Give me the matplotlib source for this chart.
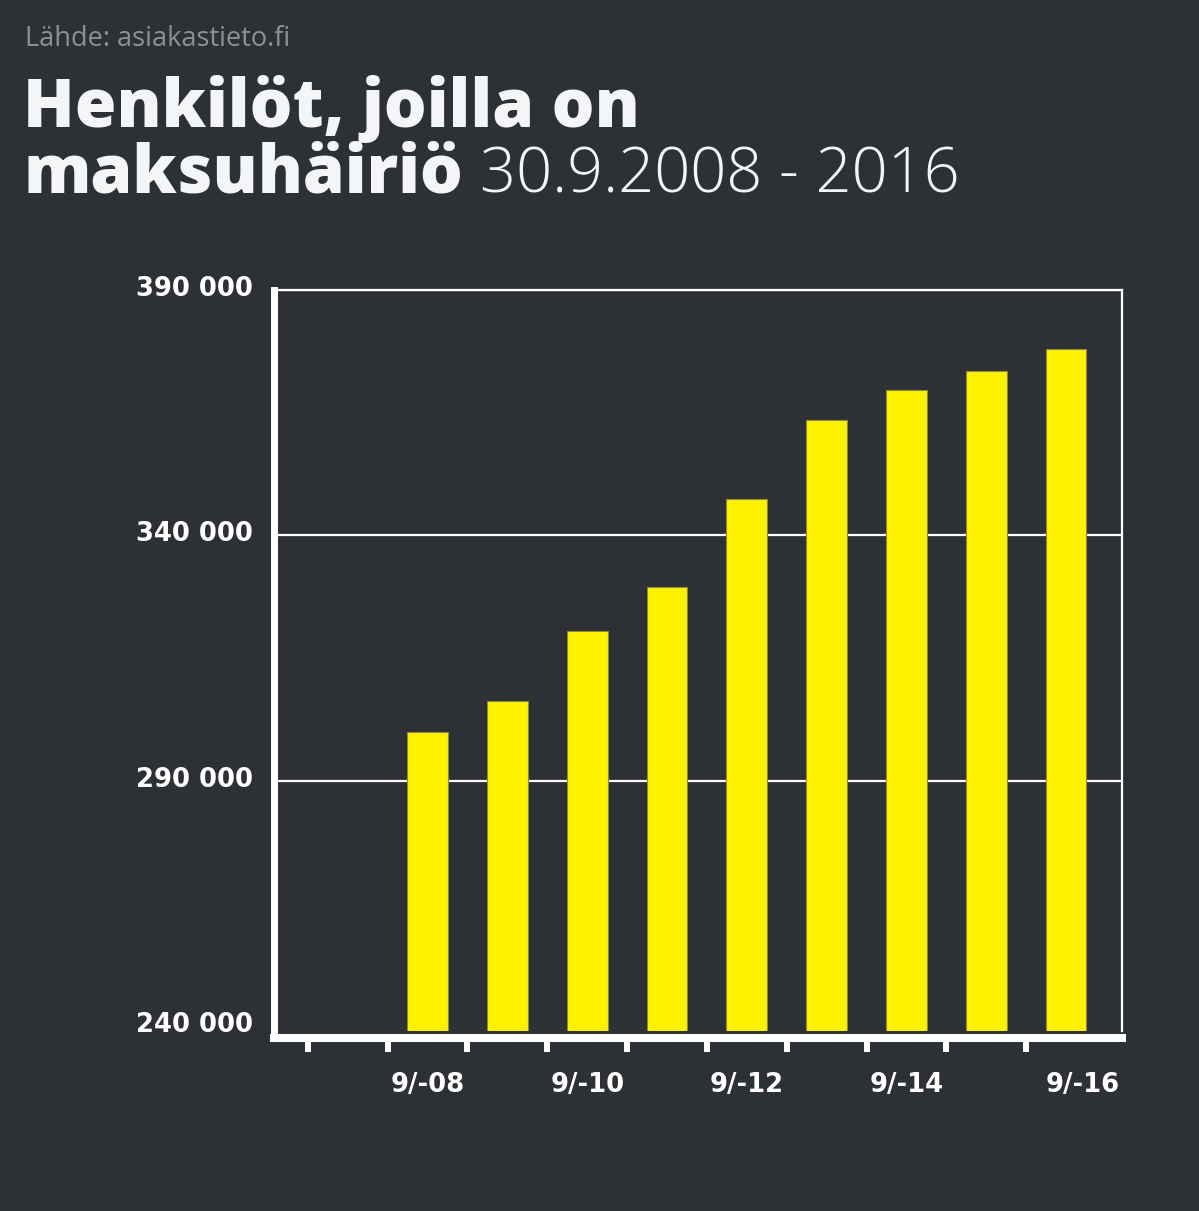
import matplotlib.pyplot as plt
from matplotlib.transforms import ScaledTranslation

plt.rcParams['font.family'] = ['DejaVu Sans']

# data
years = ['9/-08', '9/-09', '9/-10', '9/-11', '9/-12', '9/-13', '9/-14', '9/-15', '9/-16']
henkilot = [299900, 306300, 320600, 329600, 347400, 363500, 369700, 373500, 378000]
y_ticks = [240000, 290000, 340000, 390000]
y_labels = ['240 000', '290 000', '340 000', '390 000']

bg = '#2d3035'
yellow = '#fff200'
W, H = 1199, 1211

fig = plt.figure(figsize=(W / 100, H / 100), dpi=100, facecolor=bg)
ax = fig.add_axes([273.5 / W, 1 - 1031 / H, (1122 - 273.5) / W, (1031 - 290.3) / H])
ax.set_facecolor(bg)

# spines first (set_position resets the ticks)
ax.spines['left'].set_linewidth(5)
ax.spines['left'].set_color('white')
ax.spines['bottom'].set_linewidth(5.8)
ax.spines['bottom'].set_color('white')
ax.spines['bottom'].set_position(('outward', 5.2))
for s in ['top', 'right']:
    ax.spines[s].set_linewidth(1.6)
    ax.spines[s].set_color('white')

x = list(range(len(years)))
ax.bar(x, henkilot, width=0.51, color=yellow, edgecolor='#8c8a3c', linewidth=0.8,
       zorder=3)

ax.set_xlim(-1.93, 8.70)
ax.set_ylim(238960, 390000)

# y axis + grid
ax.set_yticks(y_ticks, y_labels, fontweight='bold', fontsize=18.6, color='white')
ax.yaxis.grid(True, color='white', linewidth=1.6, zorder=1)
ax.get_ygridlines()[0].set_visible(False)
ax.tick_params(axis='y', length=0, pad=15)
for lab in ax.get_yticklabels():
    lab.set_transform(lab.get_transform() + ScaledTranslation(0, 0.04, fig.dpi_scale_trans))

# labels every second year, tick marks at category boundaries (minor)
ax.set_xticks([i - 0.5 for i in range(-1, 9)], minor=True)
ax.tick_params(axis='x', which='major', length=0, pad=24)
ax.tick_params(axis='x', which='minor', direction='out', length=10, width=4.3,
               color='white')
ax.set_xticks(x[::2], [years[i] for i in x[::2]], fontweight='bold', fontsize=18.6,
              color='white')
last = ax.get_xticklabels()[-1]
last.set_transform(last.get_transform() + ScaledTranslation(0.17, 0, fig.dpi_scale_trans))

# texts
fig.text(25 / W, 1 - 46 / H, 'Lähde: asiakastieto.fi', fontsize=19.5, color='#8d9094',
         family='Open Sans', va='baseline')
fig.text(23 / W, 1 - 127 / H, 'Henkilöt, joilla on', fontsize=48.5, color='#f3f5f6',
         family='Open Sans', fontweight='heavy', va='baseline')
fig.text(23 / W, 1 - 192 / H, 'maksuhäiriö', fontsize=48.5, color='#f3f5f6',
         family='Open Sans', fontweight='heavy', va='baseline')
fig.text(480 / W, 1 - 192 / H, '30.9.2008 - 2016', fontsize=45.5, color='#f3f5f6',
         family='Open Sans', fontweight='light', va='baseline')

fig.savefig('out.png', dpi=100, facecolor=bg)
